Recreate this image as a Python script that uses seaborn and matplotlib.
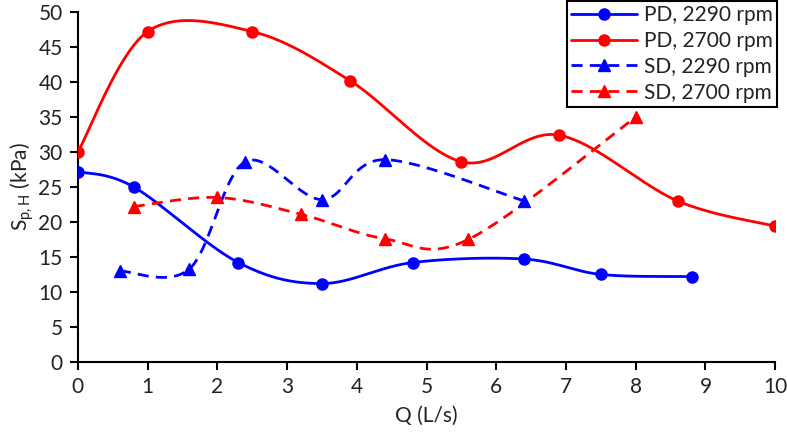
import numpy as np
import pandas as pd
import matplotlib
matplotlib.use("Agg")
import matplotlib.pyplot as plt
import seaborn as sns

pd_2290_x = [0, 0.8, 2.3, 3.5, 4.8, 6.4, 7.5, 8.8]
pd_2290_y = [27.2, 25.0, 14.2, 11.2, 14.2, 14.7, 12.5, 12.2]
pd_2700_x = [0, 1.0, 2.5, 3.9, 5.5, 6.9, 8.6, 10.0]
pd_2700_y = [30.0, 47.2, 47.2, 40.2, 28.6, 32.4, 23.0, 19.4]
sd_2290_x = [0.6, 1.6, 2.4, 3.5, 4.4, 6.4]
sd_2290_y = [13.0, 13.3, 28.6, 23.2, 28.9, 23.0]
sd_2700_x = [0.8, 2.0, 3.2, 4.4, 5.6, 8.0]
sd_2700_y = [22.2, 23.5, 21.1, 17.6, 17.5, 35.0]

labels = ["PD, 2290 rpm", "PD, 2700 rpm", "SD, 2290 rpm", "SD, 2700 rpm"]
xticks = list(range(0, 11))
yticks = list(range(0, 55, 5))


def smooth(x, y, n=40):
    x = np.asarray(x, float)
    y = np.asarray(y, float)
    px = np.concatenate([[x[0]], x, [x[-1]]])
    py = np.concatenate([[y[0]], y, [y[-1]]])
    outx, outy = [], []
    t = np.linspace(0, 1, n)
    for i in range(1, len(px) - 2):
        p0 = np.array([px[i], py[i]])
        p3 = np.array([px[i + 1], py[i + 1]])
        c1 = p0 + (np.array([px[i + 1], py[i + 1]]) - np.array([px[i - 1], py[i - 1]])) / 6
        c2 = p3 - (np.array([px[i + 2], py[i + 2]]) - np.array([px[i], py[i]])) / 6
        b = ((1 - t)[:, None] ** 3 * p0 + 3 * ((1 - t) ** 2 * t)[:, None] * c1
             + 3 * ((1 - t) * t ** 2)[:, None] * c2 + (t ** 3)[:, None] * p3)
        outx.extend(b[:, 0]); outy.extend(b[:, 1])
    return np.array(outx), np.array(outy)


sns.set_style("ticks")
plt.rcParams['font.family'] = ['Lato', 'DejaVu Sans']

fig = plt.figure(figsize=(7.87, 4.43), dpi=100)
ax = fig.add_axes([0.099, 0.183, 0.886, 0.79])

DASH = (0, (4, 2.6))
series = [
    (pd_2290_x, pd_2290_y, "#0000FF", "-", "o", 8),
    (pd_2700_x, pd_2700_y, "#FF0000", "-", "o", 8),
    (sd_2290_x, sd_2290_y, "#0000FF", DASH, "^", 9),
    (sd_2700_x, sd_2700_y, "#FF0000", DASH, "^", 9),
]
handles = []
for (x, y, c, ls, m, ms), lab in zip(series, labels):
    sx, sy = smooth(x, y)
    sns.lineplot(x=sx, y=sy, sort=False, estimator=None, color=c,
                 linewidth=2.0, ax=ax)
    ax.lines[-1].set_linestyle(ls)
    ax.plot(x, y, linestyle="none", marker=m, markersize=ms, color=c, zorder=3)
    h, = ax.plot([], [], color=c, linestyle=ls, linewidth=2.0, marker=m, markersize=ms)
    handles.append(h)

ax.set_xlim(0, 10)
ax.set_ylim(0, 50)
ax.set_xticks(xticks)
ax.set_yticks(yticks)
ax.tick_params(axis='both', labelsize=15, length=6, width=1.5, color='black',
               labelcolor='#222222', direction='out', pad=5)
for s in ['top', 'right']:
    ax.spines[s].set_visible(False)
for s in ['left', 'bottom']:
    ax.spines[s].set_linewidth(1.5)
    ax.spines[s].set_color('black')
ax.set_xlabel("Q (L/s)", fontsize=15, labelpad=6, color='#222222')
ax.set_ylabel("S$_{\\mathregular{p,H}}$ (kPa)", fontsize=15, labelpad=2, color='#222222')

leg = fig.legend(handles=handles, labels=labels, loc='upper right',
                 bbox_to_anchor=(0.987, 0.998), fontsize=15, frameon=True,
                 fancybox=False, edgecolor='black', handlelength=3.2,
                 borderpad=0.2, labelspacing=0.28, handletextpad=0.3, borderaxespad=0)
leg.get_frame().set_linewidth(1.5)
leg.get_frame().set_alpha(1)
for t in leg.get_texts():
    t.set_color('#222222')

fig.savefig("out.png", dpi=100)
